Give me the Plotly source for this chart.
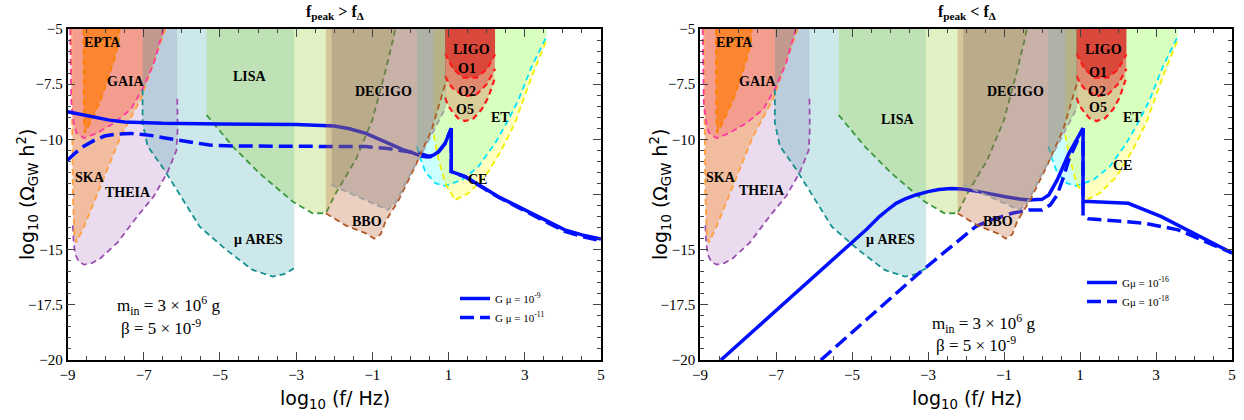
import plotly.graph_objects as go

SERIF = "Liberation Serif"
SANS = "DejaVu Sans"
TOP = -5.0

# ---------------- detector sensitivity curves (log10 f [Hz], log10 Omega h^2) ----------------
theia_x = [-8.86, -8.84, -8.80, -8.70, -8.56, -8.35, -8.14, -7.69, -7.16, -6.73, -6.38, -6.14, -6.11, -6.12]
theia_y = [-13.9, -14.6, -15.2, -15.55, -15.68, -15.6, -15.4, -14.68, -13.47, -12.57, -11.51, -10.5, -9.5, -8.07]

ska_x = [-8.90, -8.88, -8.86, -8.82, -8.77, -8.56, -8.03, -7.60, -7.08, -6.81, -6.47, -6.43]
ska_y = [-5.0, -9.0, -12.5, -14.3, -14.68, -13.93, -11.66, -9.85, -8.19, -6.83, -5.17, -5.0]

gaia_x = [-8.93, -8.92, -8.90, -8.84, -8.77, -8.56, -8.21, -7.77, -7.34, -7.03, -6.73, -6.51, -6.48]
gaia_y = [-5.0, -7.0, -8.34, -9.2, -9.7, -9.95, -9.7, -9.25, -8.64, -7.73, -6.53, -5.17, -5.0]

epta_x = [-8.58, -8.58, -8.57, -8.55, -8.45, -8.12, -7.77, -7.66, -7.64]
epta_y = [-5.0, -7.0, -9.0, -9.7, -9.4, -8.19, -6.37, -5.6, -5.0]

mares_x = [-7.03, -7.03, -6.90, -6.47, -6.03, -5.53, -4.83, -4.14, -3.61, -3.30, -3.05]
mares_y = [-7.73, -9.25, -10.3, -11.36, -12.57, -13.96, -15.01, -15.92, -16.22, -16.1, -15.84]

lisa_x = [-5.35, -4.66, -3.96, -3.09, -2.57, -2.22, -1.96, -1.44, -1.00, -0.65, -0.44, -0.40]
lisa_y = [-8.9, -10.33, -11.54, -12.82, -13.35, -13.35, -12.44, -10.94, -9.12, -6.86, -5.35, -5.0]

bbo_x = [-2.22, -1.70, -1.17, -0.95, -0.78, -0.65, -0.31, 0.13, 0.56, 0.93]
bbo_y = [-13.35, -13.9, -14.26, -14.5, -14.3, -13.7, -12.75, -11.2, -9.55, -7.4]

decigo_x = [-2.07, -1.44, -0.90, -0.60, -0.39, -0.04, 0.39, 0.93]
decigo_y = [-12.07, -12.55, -12.95, -13.2, -12.87, -11.69, -10.33, -8.55]

et_x = [0.17, 0.26, 0.39, 0.65, 0.91, 1.35, 1.78, 2.22, 2.57, 2.83, 3.18, 3.57]
et_y = [-10.33, -10.86, -11.47, -11.99, -12.11, -11.84, -11.24, -10.18, -9.12, -8.22, -6.71, -5.35]

ce_x = [0.61, 0.74, 0.91, 1.17, 1.52, 1.96, 2.39, 2.74, 3.18, 3.57]
ce_y = [-9.8, -10.94, -11.99, -12.75, -12.44, -11.69, -10.48, -9.27, -7.16, -5.5]

o5_x = [0.91, 0.98, 1.09, 1.25, 1.43, 1.65, 1.87, 2.04, 2.20]
o5_y = [-8.11, -8.45, -8.72, -9.05, -9.17, -9.06, -8.64, -8.11, -7.3]

o2_x = [0.91, 1.00, 1.13, 1.43, 1.74, 2.00, 2.17, 2.22]
o2_y = [-7.13, -7.45, -7.73, -8.04, -7.96, -7.5, -6.98, -6.8]

o1_x = [0.91, 0.96, 1.13, 1.39, 1.74, 2.00, 2.22]
o1_y = [-6.1, -6.3, -6.83, -7.2, -7.2, -6.83, -6.15]

# ---------------- GW spectra ----------------
left_solid_x = [-9.0, -8.6, -8.3, -7.9, -7.5, -7.0, -6.5, -5.0, -3.0, -2.0, -1.6, -1.17, -0.8, -0.48, -0.2,
                0.04, 0.30, 0.45, 0.60, 0.74, 0.91, 1.07, 1.07, 1.44, 1.90, 2.31, 2.75, 3.18, 3.60, 4.05, 4.50, 5.0]
left_solid_y = [-8.75, -8.9, -9.02, -9.13, -9.21, -9.25, -9.27, -9.3, -9.33, -9.4, -9.52, -9.73, -10.0, -10.26, -10.47,
                -10.6, -10.77, -10.8, -10.72, -10.56, -10.18, -9.5, -11.46, -11.69, -12.18, -12.6, -12.98, -13.35, -13.72, -14.1, -14.33, -14.52]

left_dash_x = [-9.0, -8.8, -8.56, -8.3, -8.03, -7.7, -7.34, -6.82, -6.4, -5.94, -5.27, -4.67, -3.0, -1.17, -0.6, -0.31,
               0.22, 0.52, 0.74, 0.91, 1.07, 1.07, 1.44, 1.90, 2.31, 2.75, 3.18, 3.60, 4.05, 4.50, 5.0]
left_dash_y = [-10.95, -10.62, -10.3, -10.05, -9.85, -9.76, -9.73, -9.82, -9.95, -10.07, -10.26, -10.3, -10.3, -10.33, -10.42, -10.48,
               -10.63, -10.79, -10.56, -10.18, -9.5, -11.46, -11.7, -12.2, -12.62, -13.02, -13.4, -13.78, -14.17, -14.4, -14.6]

right_solid_x = [-8.45, -5.59, -4.98, -4.60, -4.28, -4.05, -3.84, -3.60, -3.32, -3.0, -2.71, -2.40, -2.10, -1.66, -1.30,
                 -0.96, -0.60, -0.35, 0.0, 0.18, 0.40, 0.71, 1.08, 1.08, 1.22, 2.27, 3.14, 4.01, 5.0]
right_solid_y = [-20.0, -15.62, -14.64, -14.05, -13.5, -13.18, -12.9, -12.7, -12.52, -12.37, -12.27, -12.23, -12.25, -12.37, -12.5,
                 -12.6, -12.7, -12.75, -12.72, -12.52, -11.84, -10.63, -9.5, -12.82, -12.82, -12.9, -13.5, -14.26, -15.15]

right_dash_x = [-5.82, -3.24, -2.60, -2.15, -1.75, -1.45, -1.20, -0.79, -0.35, 0.0, 0.22, 0.40, 0.57, 0.71, 1.08, 1.08,
                1.22, 2.00, 2.70, 3.58, 4.19, 5.0]
right_dash_y = [-20.0, -16.07, -15.16, -14.52, -13.96, -13.72, -13.58, -13.35, -13.2, -13.2, -12.97, -12.52, -11.69, -10.9, -9.5, -13.5,
                -13.6, -13.7, -13.8, -14.1, -14.56, -15.15]

# ---------------- labels ----------------
det_names = ["EPTA", "GAIA", "LISA", "SKA", "THEIA", "μ ARES", "DECIGO", "BBO", "LIGO", "O1", "O2", "O5", "ET", "CE"]
left_lab_x = [-8.07, -7.49, -4.21, -8.41, -7.41, -4.0, -0.72, -1.14, 1.59, 1.49, 1.49, 1.43, 2.35, 1.75]
left_lab_y = [-5.63, -7.36, -7.17, -11.75, -12.39, -14.56, -7.85, -13.74, -5.91, -6.81, -7.81, -8.67, -8.99, -11.84]
right_lab_x = [-8.08, -7.5, -3.79, -8.45, -7.37, -4.0, -0.71, -1.16, 1.61, 1.47, 1.45, 1.47, 2.37, 2.13]
right_lab_y = [-5.63, -7.36, -9.08, -11.75, -12.3, -14.56, -7.85, -13.74, -5.91, -6.99, -7.81, -8.58, -8.99, -11.2]

fig = go.Figure()


def add_fill(xs, ys, color, xa, ya):
    px = [xs[0]] + list(xs) + [xs[-1]]
    py = [TOP] + list(ys) + [TOP]
    fig.add_trace(go.Scatter(x=px, y=py, fill="toself", fillcolor=color, mode="none",
                             hoverinfo="skip", showlegend=False, xaxis=xa, yaxis=ya))


def add_border(xs, ys, color, xa, ya, width=1.8):
    fig.add_trace(go.Scatter(x=xs, y=ys, mode="lines",
                             line=dict(color=color, width=width, dash="6px,4px"),
                             hoverinfo="skip", showlegend=False, xaxis=xa, yaxis=ya))


base_regions = [
    (theia_x, theia_y, "rgba(150,80,170,0.2)", "#9b4fb0"),
    (ska_x, ska_y, "rgba(250,150,60,0.45)", "#ffa040"),
    (gaia_x, gaia_y, "rgba(250,90,110,0.32)", "#ff3aa0"),
    (epta_x, epta_y, "rgba(255,120,0,0.65)", "#ff8000"),
    (mares_x, mares_y, "rgba(0,140,150,0.2)", "#169090"),
    (lisa_x, lisa_y, "rgba(160,210,60,0.3)", "#3c9a3c"),
    (et_x, et_y, "rgba(0,255,255,0.2)", "#00e5ff"),
    (ce_x, ce_y, "rgba(255,255,0,0.25)", "#f0f000"),
    (o5_x, o5_y, "rgba(220,60,40,0.25)", "#ff1a1a"),
    (o2_x, o2_y, "rgba(230,70,70,0.5)", "#ff1a1a"),
    (o1_x, o1_y, "rgba(215,50,40,0.75)", "#ff1a1a"),
]
top_regions = [
    (bbo_x, bbo_y, "rgba(190,100,50,0.3)", "#b05a28"),
    (decigo_x, decigo_y, "rgba(120,110,110,0.3)", "#a0a0a0"),
]

panels = [
    ("x", "y", left_solid_x, left_solid_y, left_dash_x, left_dash_y,
     "G μ = 10<sup>-9</sup>", "G μ = 10<sup>-11</sup>", "legend"),
    ("x2", "y2", right_solid_x, right_solid_y, right_dash_x, right_dash_y,
     "Gμ = 10<sup>-16</sup>", "Gμ = 10<sup>-18</sup>", "legend2"),
]

for xa, ya, sx, sy, dx, dy, n1, n2, lg in panels:
    for xs, ys, fc, lc in base_regions:
        add_fill(xs, ys, fc, xa, ya)
    for xs, ys, fc, lc in base_regions:
        w = 2.2 if lc == "#ff1a1a" else 1.8
        add_border(xs, ys, lc, xa, ya, w)
    fig.add_trace(go.Scatter(x=sx, y=sy, mode="lines", name=n1, legend=lg,
                             line=dict(color="#0010ff", width=3.5), xaxis=xa, yaxis=ya))
    fig.add_trace(go.Scatter(x=dx, y=dy, mode="lines", name=n2, legend=lg,
                             line=dict(color="#0010ff", width=3.5, dash="14px,6px"), xaxis=xa, yaxis=ya))
    for xs, ys, fc, lc in top_regions:
        add_fill(xs, ys, fc, xa, ya)
    for xs, ys, fc, lc in top_regions:
        add_border(xs, ys, lc, xa, ya)

annotations = []
for xa, ya, lx, ly in [("x", "y", left_lab_x, left_lab_y), ("x2", "y2", right_lab_x, right_lab_y)]:
    for name, x0, y0 in zip(det_names, lx, ly):
        annotations.append(dict(x=x0, y=y0, xref=xa, yref=ya, text="<b>%s</b>" % name,
                                showarrow=False, font=dict(family=SERIF, size=14, color="black")))

W, H = 1244, 420
for cx, title in [(335, "<b>f<sub>peak</sub> > f<sub>Δ</sub></b>"), (967, "<b>f<sub>peak</sub> < f<sub>Δ</sub></b>")]:
    annotations.append(dict(x=cx / W, y=1 - 12 / H, xref="paper", yref="paper", text=title,
                            xanchor="center", yanchor="middle",
                            showarrow=False, font=dict(family=SERIF, size=16, color="black")))
    annotations.append(dict(x=cx / W, y=1 - 399 / H, xref="paper", yref="paper",
                            xanchor="center", yanchor="middle",
                            text="log<sub>10</sub> (f/ Hz)", showarrow=False,
                            font=dict(family=SANS, size=19, color="black")))
for cx in [27, 660]:
    annotations.append(dict(x=cx / W, y=1 - 195 / H, xref="paper", yref="paper", textangle=-90,
                            xanchor="center", yanchor="middle",
                            text="log<sub>10</sub> (Ω<sub>GW</sub> h<sup>2</sup>)", showarrow=False,
                            font=dict(family=SANS, size=19, color="black")))
for lx, ly1, ly2 in [(115, 305, 327), (930, 323, 344)]:
    annotations.append(dict(x=lx / W, y=1 - ly1 / H, xref="paper", yref="paper", xanchor="left",
                            yanchor="middle",
                            text="m<sub>in</sub> = 3 × 10<sup>6</sup> g", showarrow=False,
                            font=dict(family=SERIF, size=17, color="black")))
    annotations.append(dict(x=(lx + 4) / W, y=1 - ly2 / H, xref="paper", yref="paper", xanchor="left",
                            yanchor="middle",
                            text="β = 5 × 10<sup>-9</sup>", showarrow=False,
                            font=dict(family=SERIF, size=17, color="black")))

tick_font = dict(family=SERIF, size=15, color="black")
xax = dict(range=[-9, 5], tick0=-9, dtick=2, ticks="inside", ticklen=8, tickwidth=1.2,
           minor=dict(ticks="inside", tick0=-9, dtick=0.5, ticklen=4, tickwidth=1),
           showline=True, linecolor="black", linewidth=1.5, mirror="ticks",
           showgrid=False, zeroline=False, tickfont=tick_font, automargin=False)
yvals = [-20, -17.5, -15, -12.5, -10, -7.5, -5]
ytext = ["−20", "−17.5", "−15", "", "−10", "−7.5", "−5"]
yax = dict(range=[-20, -5], tickmode="array", tickvals=yvals, ticktext=ytext,
           ticks="inside", ticklen=8, tickwidth=1.2,
           minor=dict(ticks="inside", tickmode="linear", tick0=-20, dtick=0.5, ticklen=4, tickwidth=1),
           showline=True, linecolor="black", linewidth=1.5, mirror="ticks",
           showgrid=False, zeroline=False, tickfont=tick_font, automargin=False)

ydom = [1 - 360 / H, 1 - 29 / H]
fig.update_layout(
    width=W, height=H, margin=dict(l=0, r=0, t=0, b=0, pad=0, autoexpand=False),
    paper_bgcolor="white", plot_bgcolor="white",
    xaxis=dict(xax, domain=[67.5 / W, 601 / W], anchor="y"),
    yaxis=dict(yax, domain=ydom, anchor="x"),
    xaxis2=dict(xax, domain=[700 / W, 1232 / W], anchor="y2"),
    yaxis2=dict(yax, domain=ydom, anchor="x2"),
    annotations=annotations,
    legend=dict(x=455 / W, y=1 - 284 / H, xanchor="left", yanchor="top", bgcolor="rgba(0,0,0,0)",
                font=dict(family=SERIF, size=11, color="black"), itemwidth=30, tracegroupgap=0),
    legend2=dict(x=1082 / W, y=1 - 268 / H, xanchor="left", yanchor="top", bgcolor="rgba(0,0,0,0)",
                 font=dict(family=SERIF, size=11, color="black"), itemwidth=30, tracegroupgap=0),
    showlegend=True,
)

fig.write_html("out.html")
